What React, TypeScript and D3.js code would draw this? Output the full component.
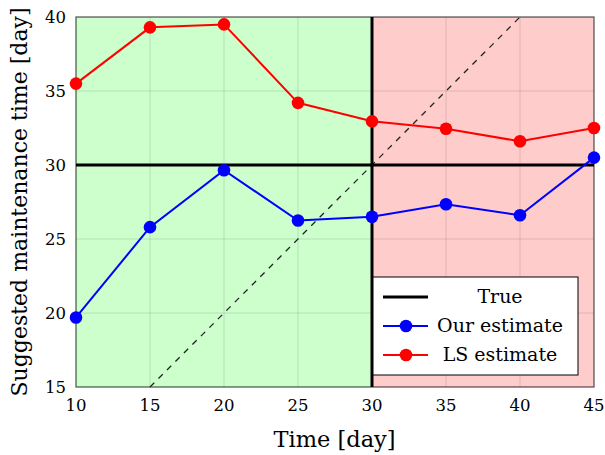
import React from "react";
import * as d3 from "d3";

const days = [10, 15, 20, 25, 30, 35, 40, 45];
const ourEstimate = [19.7, 25.8, 29.65, 26.25, 26.5, 27.35, 26.6, 30.5];
const lsEstimate = [35.5, 39.3, 39.5, 34.2, 32.95, 32.45, 31.6, 32.5];
const trueValue = 30;
const xTicks = [10, 15, 20, 25, 30, 35, 40, 45];
const yTicks = [15, 20, 25, 30, 35, 40];
const diagonal = [15, 40];
const splitDay = 30;

const W = 605, H = 455;
const L = 76, R = 594, T = 17, B = 387;
const FONT = "'DejaVu Serif', serif";

export default function App() {
  const x = d3.scaleLinear().domain([10, 45]).range([L, R]);
  const y = d3.scaleLinear().domain([15, 40]).range([B, T]);
  const line = d3.line<number>().x((_, i) => x(days[i])).y((v) => y(v));

  const legendItems = [
    { label: "True", color: "#000", marker: false, width: 3 },
    { label: "Our estimate", color: "#0000ff", marker: true, width: 2 },
    { label: "LS estimate", color: "#ff0000", marker: true, width: 2 },
  ];

  return (
    <svg width={W} height={H} style={{ position: "absolute", left: 0, top: 0 }} fontFamily={FONT}>
      <rect x={0} y={0} width={W} height={H} fill="#fff" />
      <rect x={x(10)} y={T} width={x(splitDay) - x(10)} height={B - T} fill="#ccffcc" />
      <rect x={x(splitDay)} y={T} width={x(45) - x(splitDay)} height={B - T} fill="#ffcccc" />
      {xTicks.map((t) => (
        <line key={"gx" + t} x1={x(t)} x2={x(t)} y1={T} y2={B} stroke="#000" strokeOpacity={0.12} strokeWidth={1} />
      ))}
      {yTicks.map((t) => (
        <line key={"gy" + t} x1={L} x2={R} y1={y(t)} y2={y(t)} stroke="#000" strokeOpacity={0.12} strokeWidth={1} />
      ))}
      <rect x={L} y={T} width={R - L} height={B - T} fill="none" stroke="#000" strokeOpacity={0.5} strokeWidth={1.5} />
      {/* dashed y = x */}
      <line x1={x(diagonal[0])} y1={y(diagonal[0])} x2={x(diagonal[1])} y2={y(diagonal[1])} stroke="#222" strokeWidth={1.3} strokeDasharray="6,6" />
      {/* true line */}
      <line x1={L} x2={R} y1={y(trueValue)} y2={y(trueValue)} stroke="#000" strokeWidth={3} />
      <line x1={x(splitDay)} x2={x(splitDay)} y1={T} y2={B} stroke="#000" strokeWidth={3} />
      <path d={line(ourEstimate) || ""} fill="none" stroke="#0000ff" strokeWidth={2} />
      {ourEstimate.map((v, i) => (
        <circle key={"b" + i} cx={x(days[i])} cy={y(v)} r={6.3} fill="#0000ff" />
      ))}
      <path d={line(lsEstimate) || ""} fill="none" stroke="#ff0000" strokeWidth={2} />
      {lsEstimate.map((v, i) => (
        <circle key={"r" + i} cx={x(days[i])} cy={y(v)} r={6.3} fill="#ff0000" />
      ))}
      {/* ticks labels */}
      {xTicks.map((t) => (
        <text key={"tx" + t} x={x(t)} y={411} textAnchor="middle" fontSize={16.5}>{t}</text>
      ))}
      {yTicks.map((t) => (
        <text key={"ty" + t} x={66} y={y(t) + 6} textAnchor="end" fontSize={16.5}>{t}</text>
      ))}
      <text x={(273 + 396) / 2} y={447} textAnchor="middle" fontSize={22.5}>Time [day]</text>
      <text transform={`translate(27, ${(6 + 398) / 2}) rotate(-90)`} textAnchor="middle" fontSize={22}>Suggested maintenance time [day]</text>
      {/* legend */}
      <rect x={373} y={277} width={205} height={98} fill="#fff" stroke="#000" strokeWidth={1} />
      {legendItems.map((it, i) => {
        const ly = 297 + i * 29;
        return (
          <g key={it.label}>
            <line x1={383} x2={428} y1={ly} y2={ly} stroke={it.color} strokeWidth={it.width} />
            {it.marker && <circle cx={406} cy={ly} r={6.3} fill={it.color} />}
            <text x={500} y={ly + 6} textAnchor="middle" fontSize={19}>{it.label}</text>
          </g>
        );
      })}
    </svg>
  );
}
